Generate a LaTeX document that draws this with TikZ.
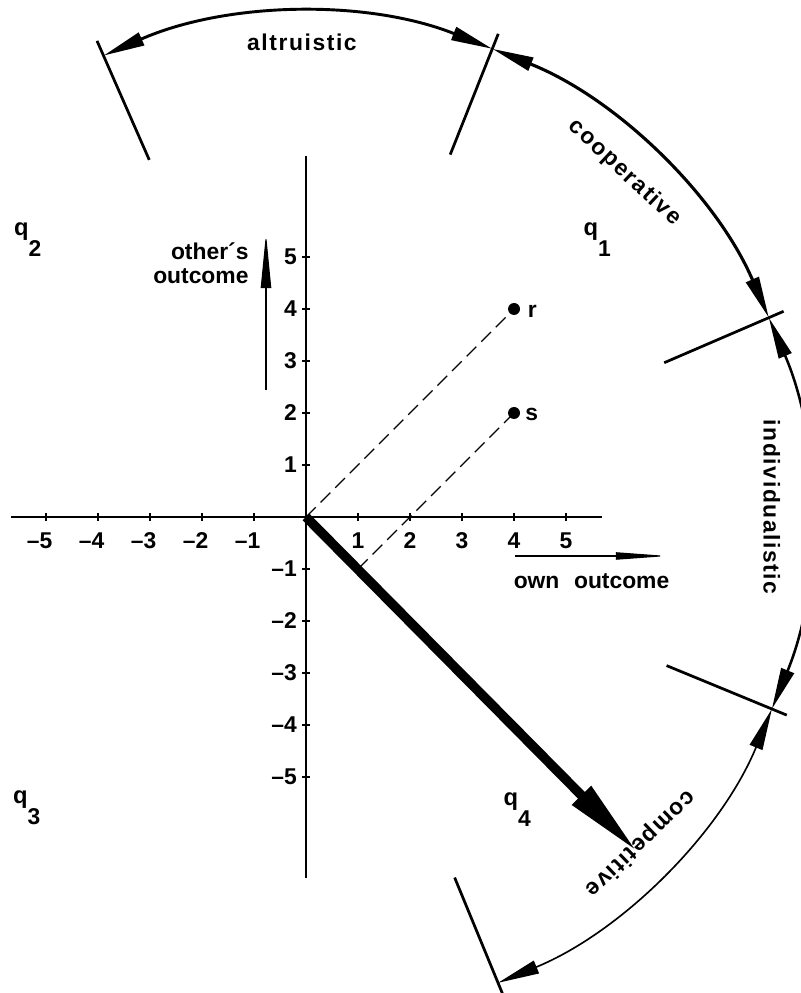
\documentclass[tikz,border=0pt]{standalone}
\usepackage{fontspec}
\setmainfont{Liberation Sans}
\newfontfamily\spacedfont{Liberation Sans}[LetterSpace=7]
\usetikzlibrary{arrows.meta}
\newcommand{\arcrad}{9.69}
\newcommand{\sectorarc}[3]{\draw[arctips,line width=#3] (#1:\arcrad) arc[start angle=#1, end angle=#2, radius=\arcrad]}
\newcommand{\qlabel}[3]{\node[lab] (#1) at (#2) {\raisebox{11.5pt}{\fontsize{13}{13}\selectfont q}#3}}
\tikzset{
  lab/.style={font=\fontsize{12.5}{13.6}\selectfont\bfseries, inner sep=0pt},
  arclab/.style={font=\spacedfont\fontsize{12.5}{13.6}\selectfont\bfseries, inner sep=0pt},
  arctips/.style={>={Triangle[length=0.8cm,width=0.26cm]}, <->},
  divider/.style={line width=1.5pt},
  axisline/.style={line width=0.9pt},
  guide/.style={line width=0.7pt, dash pattern=on 7.5pt off 3.8pt}
}

\begin{document}
\begin{tikzpicture}
\useasboundingbox (-5.885,-9.154) rectangle (9.5,9.942);
\coordinate (O) at (0,0);
% axes with ticks
\draw[axisline] (-5.67,0) -- (5.7,0);
\draw[axisline] (0,-6.95) -- (0,6.95);
\foreach \i in {1,...,5}{
  \draw[axisline] (\i,-0.07) -- (\i,0.07);
  \draw[axisline] (-\i,-0.07) -- (-\i,0.07);
  \draw[axisline] (-0.07,\i) -- (0.07,\i);
  \draw[axisline] (-0.07,-\i) -- (0.07,-\i);
  \node[lab,anchor=north] (x\i) at (\i,-0.29) {\i};
  \node[lab,anchor=north] (xm\i) at (-\i,-0.29) {\llap{–}\i};
  \node[lab,anchor=east] (y\i) at (-0.17,\i) {\i};
  \node[lab,anchor=east] (ym\i) at (-0.17,-\i) {–\i};
}
% points r and s
\coordinate (m) at (1,-1);
\coordinate (r) at (4,4);
\coordinate (s) at (4,2);
\draw[guide] (O) -- (r);
\draw[guide] (m) -- (s);
\fill (r) circle (0.115);
\fill (s) circle (0.115);
\node[lab,anchor=west] (rlab) at (4.26,3.96) {r};
\node[lab,anchor=west] (slab) at (4.21,1.98) {s};
% axis names
\coordinate (oy1) at (-0.77,2.44);
\coordinate (oy2) at (-0.77,5.45);
\draw[line width=0.6pt,-{Triangle[length=1.05cm,width=0.2cm]}] (oy1) -- (oy2);
\node[lab,align=right,anchor=east] (other) at (-1.1,4.88) {other´s\\outcome};
\coordinate (ox1) at (4.02,-0.75);
\coordinate (ox2) at (6.96,-0.75);
\draw[line width=0.6pt,-{Triangle[length=1.0cm,width=0.14cm]}] (ox1) -- (ox2);
\node[lab] (own) at (5.49,-1.23) {own\hspace{8pt}outcome};
% quadrants
\qlabel{q1}{5.6,5.33}{1};
\qlabel{q2}{-5.35,5.33}{2};
\qlabel{q3}{-5.37,-5.6}{3};
\qlabel{q4}{4.06,-5.63}{4};
% sectors of the circle
\foreach \a in {113.7,68.3,23.3,-22.4,-67.6}
  \draw[divider] (\a:7.5) -- (\a:10);
\sectorarc{113.7}{68.3}{1.6pt};
\sectorarc{68.3}{23.3}{1.7pt};
\sectorarc{23.3}{-22.4}{1.4pt};
\sectorarc{-22.4}{-67.6}{0.9pt};
\node[arclab] (alt) at (90.5:9.12) {altruistic};
\node[arclab,rotate=-43] (coop) at (47.2:9.02) {cooperative};
\node[arclab,rotate=-90] (indiv) at (1.2:8.96) {individualistic};
\node[arclab,rotate=-136] (compt) at (-44.3:8.98) {competitive};
% competitive vector
\coordinate (c) at (-45.3:9.07);
\draw[line width=5.2pt,-{Triangle[length=1.54cm,width=0.47cm]}] (O) -- (c);
\end{tikzpicture}
\end{document}
